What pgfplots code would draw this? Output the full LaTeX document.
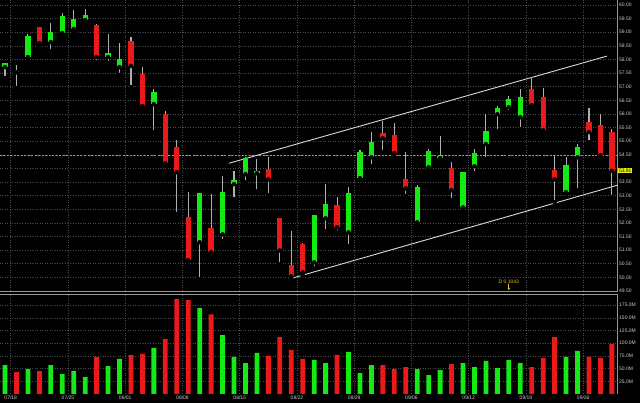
\documentclass[border=0pt]{standalone}
\usepackage{fontspec}
\setmainfont{Liberation Sans}
\usepackage{pgfplots}
\usepackage{pgfplotstable}
\pgfplotsset{compat=1.18}
\usetikzlibrary{arrows.meta}

\definecolor{cgreen}{RGB}{20,235,20}
\definecolor{cred}{RGB}{235,25,25}
\definecolor{wickc}{RGB}{175,175,175}
\definecolor{gridc}{RGB}{75,75,75}
\definecolor{linec}{RGB}{150,150,150}
\definecolor{labc}{RGB}{205,205,205}
\definecolor{annoc}{RGB}{225,200,30}
\definecolor{lastc}{RGB}{240,240,20}

% x = bar number, o h l c = price, v = volume in millions
\pgfplotstableread{
x  o     h     l     c     v
1  57.72 57.87 57.32 57.87 57
3  58.09 58.93 58.05 58.86 49
5  58.64 59.34 58.31 59.01 57
6  58.97 59.71 58.90 59.60 39
7  59.12 59.82 59.01 59.49 45
8  59.45 59.85 59.30 59.63 33
10 58.09 58.93 57.87 58.24 55
11 57.72 58.60 57.43 58.01 69
14 56.36 56.91 55.33 56.80 91
18 51.29 53.09 49.93 53.09 169
20 51.58 53.71 51.32 53.13 116
21 53.42 53.90 52.87 53.57 73
22 53.79 54.41 53.49 54.38 61
23 53.82 54.34 53.16 53.90 81
28 50.55 52.28 50.33 52.28 67
29 52.17 53.42 51.69 52.68 61
31 51.65 53.31 51.14 53.09 83
32 53.64 54.67 53.60 54.60 41
33 54.41 55.33 54.08 54.96 57
37 52.02 53.38 51.88 53.31 49
38 54.04 54.71 53.90 54.63 37
39 54.38 55.18 54.23 54.41 47
41 52.57 53.86 52.54 53.86 61
42 54.08 54.71 53.82 54.56 53
43 54.89 55.99 54.34 55.37 65
44 55.99 56.29 55.37 56.21 51
45 56.25 56.65 56.07 56.54 67
46 55.88 56.91 55.44 56.62 61
50 53.13 54.41 53.09 54.12 73
51 54.41 54.89 53.20 54.78 85
}\greendata

\pgfplotstableread{
x  o     h     l     c     v
2  57.55 57.79 56.95 57.53 43
4  59.19 59.19 58.46 58.60 45
9  59.26 59.30 57.90 58.09 73
12 58.68 58.82 56.99 57.76 77
13 57.46 57.72 56.18 56.29 79
15 55.99 56.10 54.15 54.19 108
16 54.78 55.04 52.32 53.86 187
17 52.21 53.13 50.59 50.63 185
19 51.80 53.05 50.77 50.92 157
24 53.97 54.41 53.01 53.60 75
25 52.17 52.17 50.48 50.99 112
26 50.44 51.69 50.00 50.04 87
27 51.21 51.25 50.07 50.18 69
30 52.65 52.94 51.65 51.84 77
34 55.29 55.74 54.60 55.11 57
35 55.22 55.66 54.45 54.56 49
36 53.60 54.60 52.98 53.27 53
40 54.01 54.23 52.83 53.20 59
47 56.91 57.35 56.21 56.32 53
48 56.62 56.95 55.33 55.40 71
49 53.93 54.45 52.76 53.60 112
52 55.70 56.21 54.96 55.33 73
53 55.59 55.99 54.41 54.49 71
54 55.33 55.44 52.94 53.91 98
}\reddata

\pgfplotsset{
  chart/.style={
    scale only axis, anchor=south west,
    xmin=0.563, xmax=54.45,
    axis line style={draw=none},
    tick style={draw=none}, major tick length=0pt,
    grid=major,
    major grid style={gridc, line width=0.6pt, dash pattern=on 1pt off 1.5pt},
    ticklabel style={font=\fontsize{5}{6}\selectfont, text=labc},
    yticklabel pos=right,
    yticklabel style={anchor=west, inner sep=1pt, xshift=1pt},
    xtick={1.5,6.5,11.5,16.5,21.5,26.5,31.5,36.5,41.5,46.5,51.5},
    /pgf/number format/assume math mode=true,
    clip=false,
  },
  wick/.style={only marks, mark=none,
    error bars/.cd, y dir=plus, y explicit, error mark=none,
    error bar style={wickc, line width=1.1pt}},
  body/.style={only marks, mark=none,
    error bars/.cd, y dir=plus, y explicit, error mark=none,
    error bar style={#1, line width=5.3pt}},
}

\begin{document}
\begin{tikzpicture}
\path[use as bounding box, fill=black] (0pt,0pt) rectangle (640pt,403pt);

% price panel
\begin{axis}[chart,
  at={(0pt,112pt)}, width=617pt, height=291pt,
  ymin=49.5, ymax=60.184,
  xticklabels={},
  ytick={49.5,50,50.5,51,51.5,52,52.5,53,53.5,54.5,55,55.5,56,56.5,57,57.5,58,58.5,59,59.5,60},
  extra y ticks={54}, extra y tick labels={},
  yticklabel style={/pgf/number format/.cd, fixed, fixed zerofill, precision=2},
]
\draw [linec, line width=0.8pt] (rel axis cs:0,0) -- (rel axis cs:1,0) -- (rel axis cs:1,1);
\addplot [draw=gray!80, line width=0.6pt, dash pattern=on 2pt off 1.5pt]
  coordinates {(0.563,54.5) (54.45,54.5)};
\addplot [draw=white!85!black, line width=0.9pt]
  coordinates {(20.56,54.19) (53.58,58.125)};
\addplot [draw=white!85!black, line width=0.9pt]
  coordinates {(25.98,49.96) (54.45,53.38)};

\addplot [wick] table [x=x, y=l, y error plus expr={\thisrow{h}-\thisrow{l}}] {\greendata};
\addplot [wick] table [x=x, y=l, y error plus expr={\thisrow{h}-\thisrow{l}}] {\reddata};
\addplot [body=cgreen] table [x=x, y expr={min(\thisrow{o},\thisrow{c})},
  y error plus expr={max(abs(\thisrow{c}-\thisrow{o}),0.06)}] {\greendata};
\addplot [body=cred] table [x=x, y expr={min(\thisrow{o},\thisrow{c})},
  y error plus expr={max(abs(\thisrow{c}-\thisrow{o}),0.06)}] {\reddata};

\node [font=\fontsize{5}{6}\selectfont, text=annoc, inner sep=0pt]
  at (axis cs:45,49.85) {D 0.1043};
\draw [annoc, line width=0.7pt, -{Latex[length=2.5pt,width=2.5pt]}]
  (axis cs:45,49.77) -- (axis cs:45,49.52);
\node [fill=lastc, text=black, inner sep=0.8pt, anchor=west,
  font=\fontsize{5}{6}\selectfont] at (axis cs:54.45,53.91) [xshift=1pt] {53.91};
\end{axis}

% volume panel
\begin{axis}[chart,
  at={(0pt,9pt)}, width=617pt, height=100pt,
  ymin=0, ymax=196.9,
  xticklabel pos=bottom,
  xticklabels={07/18,07/25,08/01,08/08,08/15,08/22,08/29,09/06,09/12,09/19,09/26},
  xticklabel style={anchor=center, yshift=-4pt},
  ytick={25,50,75,100,125,150,175},
  yticklabel={\pgfmathprintnumber[fixed, fixed zerofill, precision=1]{\tick}M},
]
\draw [linec, line width=0.8pt] (rel axis cs:0,1) -- (rel axis cs:1,1) -- (rel axis cs:1,0);
\addplot [ybar, bar width=4.8pt, bar shift=0pt, fill=cgreen, draw=none]
  table [x=x, y=v] {\greendata};
\addplot [ybar, bar width=4.8pt, bar shift=0pt, fill=cred, draw=none]
  table [x=x, y=v] {\reddata};
\end{axis}
\end{tikzpicture}
\end{document}
